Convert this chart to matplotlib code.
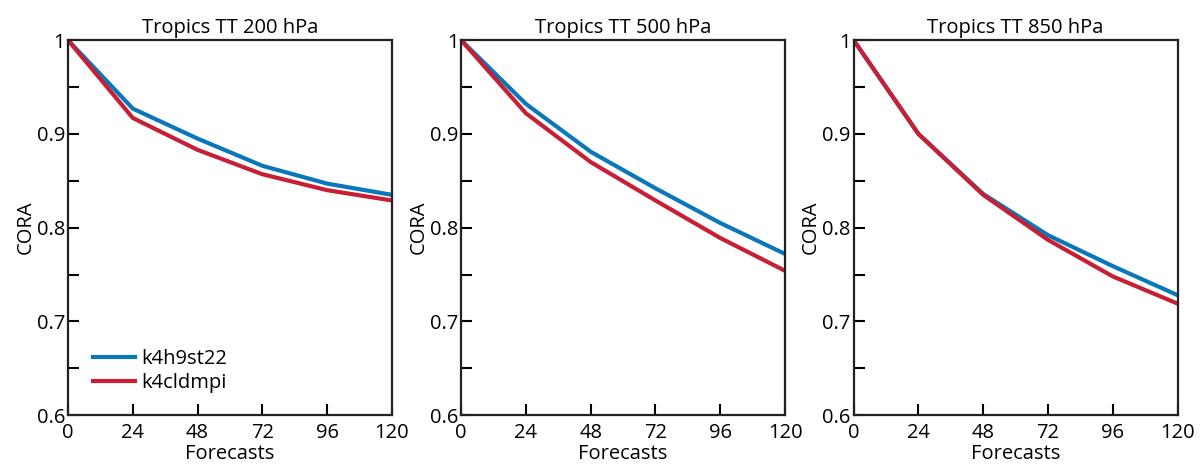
import matplotlib
matplotlib.use("Agg")
import matplotlib.pyplot as plt
from matplotlib.ticker import MultipleLocator, FuncFormatter

lead_times = [0, 24, 48, 72, 96, 120]
titles = ["Tropics TT 200 hPa", "Tropics TT 500 hPa", "Tropics TT 850 hPa"]
series_names = ["k4h9st22", "k4cldmpi"]

k4h9st22 = [
    [1.0, 0.927, 0.895, 0.866, 0.847, 0.835],
    [1.0, 0.932, 0.881, 0.842, 0.805, 0.772],
    [1.0, 0.900, 0.836, 0.792, 0.759, 0.728],
]
k4cldmpi = [
    [1.0, 0.917, 0.883, 0.857, 0.840, 0.829],
    [1.0, 0.922, 0.870, 0.829, 0.789, 0.754],
    [1.0, 0.900, 0.835, 0.787, 0.748, 0.719],
]

colors = ["#0a77bb", "#c81f35"]


def fmt(v, pos):
    return "1" if abs(v - 1) < 1e-9 else f"{v:.1f}"


def main():
    plt.rcParams["font.family"] = ["Open Sans", "DejaVu Sans"]
    fig = plt.figure(figsize=(12.04, 4.67), dpi=100)
    lefts = [0.0565, 0.383, 0.709]

    for i, left in enumerate(lefts):
        ax = fig.add_axes([left, 0.111, 0.269, 0.803])
        ax.plot(lead_times, k4h9st22[i], color=colors[0], lw=3, label=series_names[0])
        ax.plot(lead_times, k4cldmpi[i], color=colors[1], lw=3, label=series_names[1])
        ax.set_xlim(0, 120)
        ax.set_ylim(0.6, 1.0)
        ax.xaxis.set_major_locator(MultipleLocator(24))
        ax.yaxis.set_major_locator(MultipleLocator(0.1))
        ax.yaxis.set_minor_locator(MultipleLocator(0.05))
        ax.yaxis.set_major_formatter(FuncFormatter(fmt))
        ax.tick_params(direction="in", length=8, width=1.5, labelsize=14.5, pad=2)
        ax.tick_params(axis="x", pad=6)
        ax.tick_params(which="minor", direction="in", length=8, width=1.5)
        ax.tick_params(axis="y", right=False)
        for s in ax.spines.values():
            s.set_linewidth(1.6)
            s.set_color("#222222")
        ax.set_title(titles[i], fontsize=14.5, pad=5)
        ax.set_xlabel("Forecasts", fontsize=14.5)
        ax.xaxis.set_label_coords(0.5, -0.078)
        ax.set_ylabel("CORA", fontsize=14.5, labelpad=1)
        if i == 0:
            ax.legend(loc="lower left", frameon=False, fontsize=14.5,
                      handlelength=2.1, handletextpad=0.3, labelspacing=0.2,
                      bbox_to_anchor=(0.02, 0.01))

    fig.savefig("out.png", dpi=100)


if __name__ == "__main__":
    main()
